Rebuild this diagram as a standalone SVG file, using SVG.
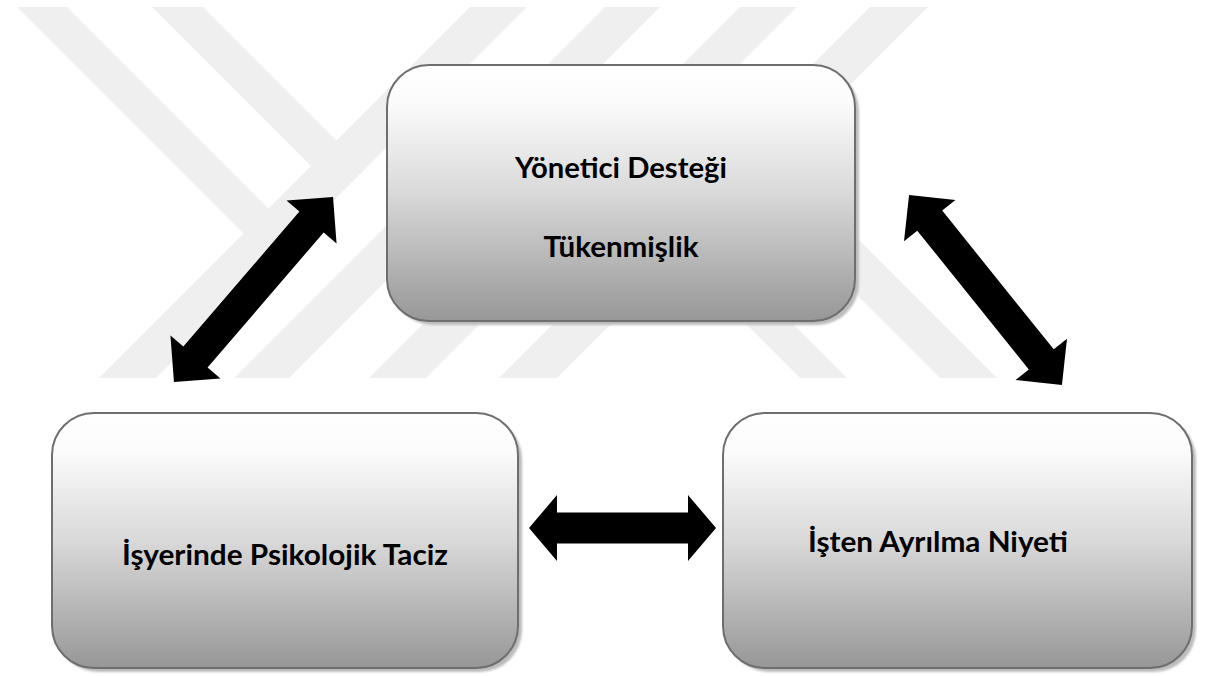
<svg xmlns="http://www.w3.org/2000/svg" width="1208" height="676" viewBox="0 0 1208 676">
  <defs>
    <linearGradient id="boxFill" x1="0" y1="0" x2="0" y2="1">
      <stop offset="0" stop-color="#ffffff"/>
      <stop offset="0.15" stop-color="#fbfbfb"/>
      <stop offset="0.5" stop-color="#d9d9d9"/>
      <stop offset="1" stop-color="#979797"/>
    </linearGradient>
    <filter id="soft" x="-5%" y="-5%" width="110%" height="110%">
      <feGaussianBlur stdDeviation="1.2"/>
    </filter>
    <!-- block double arrow, drawn along +x and centred on the origin -->
    <polygon id="arrowDiag" points="-122,0 -89,-33 -89,-16 89,-16 89,-33 122,0 89,33 89,16 -89,16 -89,33"/>
    <polygon id="arrowFlat" points="-93.5,0 -65.5,-33 -65.5,-15.5 65.5,-15.5 65.5,-33 93.5,0 65.5,33 65.5,15.5 -65.5,15.5 -65.5,33"/>
  </defs>
  <style>
    .mark { fill: #efefef; }
    .shadow { fill: #bcbcbc; filter: url(#soft); }
    .box { fill: url(#boxFill); stroke: #6e6e6e; stroke-width: 2; }
    .label { font-family: "Lato", "Open Sans", "Liberation Sans", sans-serif; font-weight: 700; font-size: 28px; fill: #000000; text-anchor: middle; }
    .arrow { fill: #000000; }
  </style>

  <rect width="1208" height="676" fill="#ffffff"/>

  <!-- background stripe mark -->
  <g id="watermark">
    <polygon class="mark" points="470,7 527,7 156,378 99,378"/>
    <polygon class="mark" points="605,7 660,7 289,378 234,378"/>
    <polygon class="mark" points="740,7 797,7 426,378 369,378"/>
    <polygon class="mark" points="870,7 928,7 557,378 499,378"/>
    <polygon class="mark" points="17,7 67,7 297,237 272,262"/>
    <polygon class="mark" points="152,7 203,7 365,169 339.5,194.5"/>
    <polygon class="mark" points="572,150 619,150 847,378 800,378"/>
    <polygon class="mark" points="712,150 769,150 997,378 940,378"/>
  </g>

  <g id="node-top">
    <rect class="shadow" x="391" y="69" width="468" height="256" rx="42"/>
    <rect class="box" x="387" y="65" width="468" height="256" rx="42"/>
    <text class="label" x="621" y="178" textLength="212" lengthAdjust="spacingAndGlyphs">Yönetici Desteği</text>
    <text class="label" x="621" y="257" textLength="155" lengthAdjust="spacingAndGlyphs">Tükenmişlik</text>
  </g>

  <g id="node-left">
    <rect class="shadow" x="56" y="417" width="466" height="255" rx="42"/>
    <rect class="box" x="52" y="413" width="466" height="255" rx="42"/>
    <text class="label" x="285" y="565" textLength="326" lengthAdjust="spacingAndGlyphs">İşyerinde Psikolojik Taciz</text>
  </g>

  <g id="node-right">
    <rect class="shadow" x="727" y="417" width="469" height="255" rx="42"/>
    <rect class="box" x="723" y="413" width="469" height="255" rx="42"/>
    <text class="label" x="938" y="552" textLength="260" lengthAdjust="spacingAndGlyphs">İşten Ayrılma Niyeti</text>
  </g>

  <g id="connectors">
    <use class="arrow" href="#arrowDiag" transform="translate(253.5 289.5) rotate(-49.3)"/>
    <use class="arrow" href="#arrowDiag" transform="translate(985.5 290) rotate(51.2)"/>
    <use class="arrow" href="#arrowFlat" transform="translate(622.5 528)"/>
  </g>
</svg>
